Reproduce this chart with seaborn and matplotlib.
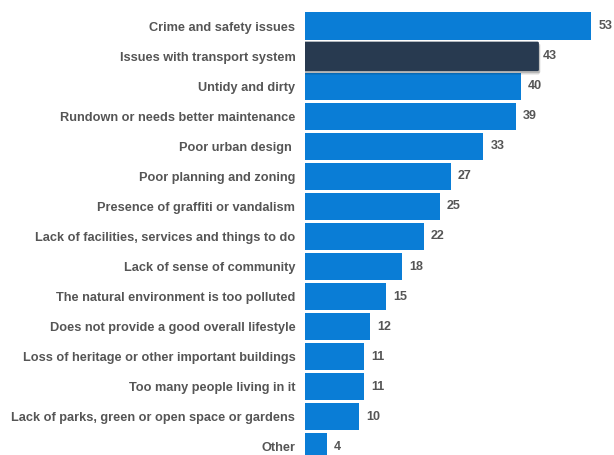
import matplotlib
matplotlib.use("Agg")
import matplotlib.pyplot as plt
import matplotlib.patheffects as pe
from matplotlib.patches import FancyBboxPatch
import seaborn as sns
import pandas as pd

categories = [
    "Crime and safety issues",
    "Issues with transport system",
    "Untidy and dirty",
    "Rundown or needs better maintenance",
    "Poor urban design ",
    "Poor planning and zoning",
    "Presence of graffiti or vandalism",
    "Lack of facilities, services and things to do",
    "Lack of sense of community",
    "The natural environment is too polluted",
    "Does not provide a good overall lifestyle",
    "Loss of heritage or other important buildings",
    "Too many people living in it",
    "Lack of parks, green or open space or gardens",
    "Other",
]
values = [53, 43, 40, 39, 33, 27, 25, 22, 18, 15, 12, 11, 11, 10, 4]
highlight = "Issues with transport system"

BLUE = "#0a7dd6"
NAVY = "#283a50"
GRAY = "#555555"

df = pd.DataFrame({"category": categories, "value": values})

sns.set_theme(style="white")
plt.rcParams["font.family"] = ["Liberation Sans", "DejaVu Sans"]

fig = plt.figure(figsize=(6.14, 4.55), dpi=100)
ax = fig.add_axes([305 / 614, 0, 1 - 305 / 614, 1])

sns.barplot(data=df, x="value", y="category", color=BLUE, width=0.9,
            saturation=1, ax=ax, orient="h")

for patch, cat, v in zip(ax.patches, categories, values):
    patch.set_edgecolor("none")
    h = patch.get_height()
    yc = patch.get_y() + h / 2
    if cat == highlight:
        patch.set_visible(False)
        x0, y0 = patch.get_x(), patch.get_y()
        w = patch.get_width()
        fb = FancyBboxPatch((x0 - 0.3, y0 - 0.03), w + 0.6, h + 0.08,
                            boxstyle="round,pad=0,rounding_size=0.3",
                            mutation_aspect=0.15,
                            facecolor=NAVY, edgecolor="none", zorder=3)
        fb.set_path_effects([
            pe.SimplePatchShadow(offset=(0.5, -2.5), shadow_rgbFace="#000000", alpha=0.12),
            pe.SimplePatchShadow(offset=(1.0, -1.5), shadow_rgbFace="#000000", alpha=0.18),
            pe.Normal()])
        ax.add_patch(fb)
        ax.text(v + 1.1, yc, str(v), va="center", ha="left",
                fontsize=9, fontweight="bold", color=GRAY)
    else:
        ax.text(v + 1.3, yc, str(v), va="center", ha="left",
                fontsize=9, fontweight="bold", color=GRAY)

ax.set_xlim(0, 57.2)
ax.set_ylim(14.27, -0.865)
ax.set_xlabel("")
ax.set_ylabel("")
ax.set_xticks([])
ax.tick_params(axis="y", length=0, pad=7)
for lbl in ax.get_yticklabels():
    lbl.set_fontweight("bold")
    lbl.set_fontsize(9.2)
    lbl.set_color(GRAY)
sns.despine(ax=ax, left=True, bottom=True)

fig.savefig("out.png", dpi=100)
